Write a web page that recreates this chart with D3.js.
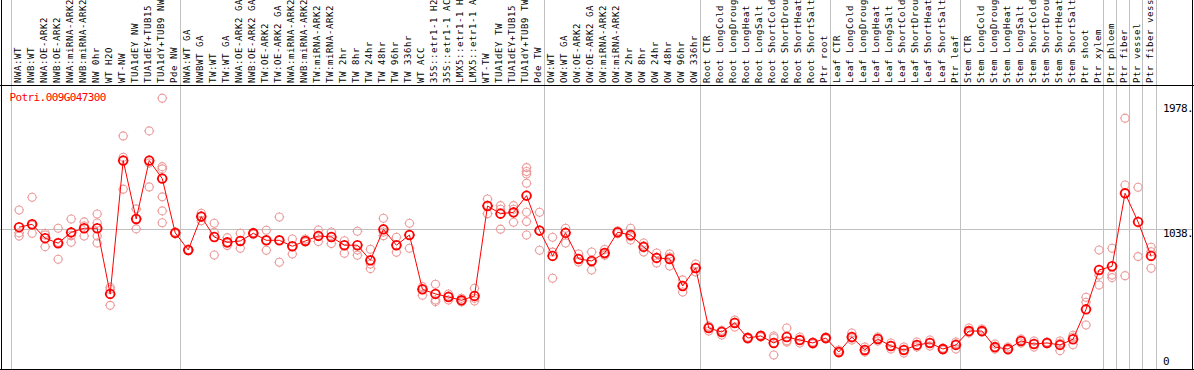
<!DOCTYPE html>
<html>
<head>
<meta charset="utf-8">
<script src="https://cdn.jsdelivr.net/npm/d3@7"></script>
<style>
  body { margin: 0; background: #fff; }
  text { font-family: "DejaVu Sans Mono", "Liberation Mono", monospace; }
</style>
</head>
<body>
<div id="chart"></div>
<script>
// sample labels (as printed, cut to 14 chars)
const labels = [
  "NWA:WT", "NWB:WT", "NWA:OE-ARK2", "NWB:OE-ARK2", "NWA:miRNA-ARK2", "NWB:miRNA-ARK2",
  "NW 0hr", "WT H2O", "WT-NW", "TUA1dEY NW", "TUA1dEY+TUB15 ", "TUA1dY+TUB9 NW", "Pde NW",
  "NWA:WT GA", "NWBWT GA", "TW:WT", "TW:WT GA", "NWA:OE-ARK2 GA", "NWB:OE-ARK2 GA",
  "TW:OE-ARK2", "TW:OE-ARK2 GA", "NWA:miRNA-ARK2", "NWB:miRNA-ARK2", "TW:miRNA-ARK2", "TW:miRNA-ARK2",
  "TW 2hr", "TW 8hr", "TW 24hr", "TW 48hr", "TW 96hr", "TW 336hr", "WT ACC",
  "35S::etr1-1 H2", "35S::etr1-1 AC", "LMX5::etr1-1 H", "LMX5::etr1-1 A",
  "WT-TW", "TUA1dEY TW", "TUA1dEY+TUB15 ", "TUA1dY+TUB9 TW", "Pde TW",
  "OW:WT", "OW:WT GA", "OW:OE-ARK2", "OW:OE-ARK2 GA", "OW:miRNA-ARK2", "OW:miRNA-ARK2",
  "OW 2hr", "OW 8hr", "OW 24hr", "OW 48hr", "OW 96hr", "OW 336hr",
  "Root CTR", "Root LongCold", "Root LongDroug", "Root LongHeat", "Root LongSalt",
  "Root ShortCold", "Root ShortDrou", "Root ShortHeat", "Root ShortSalt", "Ptr root",
  "Leaf CTR", "Leaf LongCold", "Leaf LongDroug", "Leaf LongHeat", "Leaf LongSalt",
  "Leaf ShortCold", "Leaf ShortDrou", "Leaf ShortHeat", "Leaf ShortSalt", "Ptr leaf",
  "Stem CTR", "Stem LongCold", "Stem LongDroug", "Stem LongHeat", "Stem LongSalt",
  "Stem ShortCold", "Stem ShortDrou", "Stem ShortHeat", "Stem ShortSalt", "Ptr shoot", "Ptr xylem",
  "Ptr phloem", "Ptr fiber", "Ptr vessel", "Ptr fiber vess"
];

// index where each group of samples begins (grey separators)
const groupStarts = [0, 13, 41, 53, 63, 73, 84, 85, 86, 87, 88];

// mean expression per sample
const means = [
  1048, 1070, 965, 927, 1009, 1040, 1040, 544, 1551, 1110, 1551, 1415, 1005,
  876, 1128, 974, 934, 944, 1002, 949, 949, 904, 944, 982, 974, 912, 912, 798,
  1032, 912, 989, 579, 544, 521, 496, 529, 1208, 1150, 1160, 1286, 1022,
  831, 1005, 808, 793, 853, 1010, 989, 899, 816, 808, 604, 740,
  287, 257, 325, 211, 227, 174, 219, 196, 174, 211,
  106, 219, 121, 204, 151, 121, 159, 174, 128, 159,
  264, 264, 143, 128, 189, 166, 174, 159, 202, 428, 725,
  753, 1304, 1088, 831
];

// replicate values per sample
const reps = [
  [1178, 1005, 982], [1274, 1063, 1002], [1002, 901, 989], [1040, 806, 934],
  [1110, 934, 984], [1088, 982, 1057], [1148, 1080, 982, 929], [594, 579, 458],
  [1737, 1576, 1335], [1186, 1035, 1110], [1775, 1533, 1352],
  [2022, 1505, 1488, 1277, 1171, 1082], [1005, 998, 1012],
  [870, 880, 878], [1153, 1097, 1133], [1078, 1010, 838], [969, 909, 927],
  [1002, 889, 944], [995, 1005, 1008], [1025, 874, 949], [1125, 783, 949],
  [959, 846, 904], [959, 936, 944], [1027, 939, 982], [1012, 924, 974],
  [946, 851, 912], [1017, 876, 836], [881, 770, 735], [1116, 984, 1012],
  [972, 859, 912], [1078, 889, 989], [599, 579, 534], [617, 498, 486],
  [544, 498, 529], [511, 484, 491], [587, 511, 491], [1261, 1150, 1213],
  [1211, 1183, 1033], [1211, 1183, 1085], [1498, 1468, 1450, 1380, 1161, 1090, 989],
  [1161, 874, 1025],
  [972, 662, 860], [1040, 1010, 929], [846, 808, 785], [861, 785, 725],
  [880, 846, 836], [1020, 1000, 1010], [1040, 951, 977], [929, 861, 906],
  [853, 778, 816], [846, 755, 823], [650, 559, 604], [770, 710, 740],
  [302, 264, 295], [264, 234, 270], [347, 295, 330], [219, 204, 211],
  [234, 219, 227], [227, 83, 212], [287, 181, 190], [219, 174, 196],
  [181, 166, 174], [219, 204, 211],
  [121, 98, 100], [249, 196, 212], [143, 106, 115], [219, 189, 204],
  [174, 128, 151], [143, 98, 121], [181, 143, 155], [196, 151, 174],
  [136, 121, 128], [181, 128, 168],
  [287, 257, 250], [279, 257, 257], [166, 128, 136], [143, 121, 121],
  [204, 174, 189], [189, 143, 166], [181, 170, 172], [189, 116, 172],
  [232, 217, 160], [519, 481, 310], [876, 687, 612],
  [889, 687, 667], [1871, 1367, 682], [1350, 826], [897, 863, 738]
];

const yTicks = [0, 1038, 1978];
const yGrid = [1038];
const geneName = "Potri.009G047300";

const width = 1194, height = 370;
const labelBottom = 85, plotRight = 1155.5, frameRight = 1192.5;

const svg = d3.select("#chart").append("svg")
  .attr("width", width)
  .attr("height", height);

const x = d3.scaleBand()
  .domain(d3.range(labels.length))
  .range([10.5, plotRight])
  .padding(0);

const y = d3.scaleLinear()
  .domain([0, 1978])
  .range([366, 104]);

const px = i => x(i) + 8.6;

// grid
svg.selectAll(".vsep")
  .data(groupStarts)
  .enter()
  .append("line")
  .attr("class", "vsep")
  .attr("x1", d => Math.round(d === labels.length ? plotRight : x(d)) + 0.5)
  .attr("x2", d => Math.round(d === labels.length ? plotRight : x(d)) + 0.5)
  .attr("y1", 0)
  .attr("y2", height)
  .style("stroke", "#c0c0c0")
  .style("shape-rendering", "crispEdges");

svg.selectAll(".hgrid")
  .data(yGrid)
  .enter()
  .append("line")
  .attr("class", "hgrid")
  .attr("x1", 0)
  .attr("x2", frameRight)
  .attr("y1", d => Math.round(y(d)) + 0.5)
  .attr("y2", d => Math.round(y(d)) + 0.5)
  .style("stroke", "#c0c0c0")
  .style("shape-rendering", "crispEdges");

// frame
let frame = svg.append("g")
  .style("stroke", "#000")
  .style("shape-rendering", "crispEdges");
frame.append("line").attr("x1", 1.5).attr("x2", 1.5).attr("y1", 0).attr("y2", height);
frame.append("line").attr("x1", frameRight).attr("x2", frameRight).attr("y1", 0).attr("y2", height);
frame.append("line").attr("x1", 0).attr("x2", width).attr("y1", labelBottom + 0.5).attr("y2", labelBottom + 0.5);
frame.append("line").attr("x1", 0).attr("x2", width).attr("y1", 369.5).attr("y2", 369.5);

// sample labels, reading upward
svg.selectAll(".lab")
  .data(labels)
  .enter()
  .append("text")
  .attr("class", "lab")
  .attr("transform", (d, i) => "translate(" + (x(i) + 10.2) + "," + (labelBottom - 2) + ") rotate(-90)")
  .style("font-size", "9px")
  .style("letter-spacing", "0.58px")
  .style("fill", "#000")
  .text(d => d);

// y tick labels
svg.selectAll(".ytick")
  .data(yTicks)
  .enter()
  .append("text")
  .attr("class", "ytick")
  .attr("x", 1163)
  .attr("y", d => Math.min(y(d) + 8, y(0) - 1))
  .style("font-size", "11px")
  .style("letter-spacing", "-0.6px")
  .style("fill", "#000")
  .text(d => d === 0 ? "0" : d + ".");

svg.append("text")
  .attr("x", 9.5)
  .attr("y", 101)
  .style("font-size", "11px")
  .style("letter-spacing", "-0.6px")
  .style("fill", "#ff0000")
  .text(geneName);

// circle marker with tiny ticks
function marker(r) {
  return "M" + (-r) + ",0A" + r + "," + r + " 0 1,0 " + r + ",0A" + r + "," + r + " 0 1,0 " + (-r) + ",0" +
    "M0," + (-r - 1) + "V" + (-r) + "M0," + r + "V" + (r + 1) +
    "M" + (-r - 1) + ",0H" + (-r) + "M" + r + ",0H" + (r + 1);
}

let repPoints = [];
reps.forEach((vals, i) => vals.forEach(v => repPoints.push({ i: i, v: v })));

svg.selectAll(".rep")
  .data(repPoints)
  .enter()
  .append("path")
  .attr("class", "rep")
  .attr("transform", d => "translate(" + px(d.i) + "," + y(d.v) + ")")
  .attr("d", marker(4))
  .style("fill", "none")
  .style("stroke", "#ec9a9a")
  .style("stroke-width", 1.1);

let meanLine = d3.line()
  .x((d, i) => px(i))
  .y(d => y(d));

svg.append("path")
  .datum(means)
  .attr("d", meanLine)
  .style("fill", "none")
  .style("stroke", "#ff0000")
  .style("stroke-width", 1);

svg.selectAll(".mean")
  .data(means)
  .enter()
  .append("path")
  .attr("class", "mean")
  .attr("transform", (d, i) => "translate(" + px(i) + "," + y(d) + ")")
  .attr("d", marker(4.3))
  .style("fill", "none")
  .style("stroke", "#ff0000")
  .style("stroke-width", 1.8);
</script>
</body>
</html>
